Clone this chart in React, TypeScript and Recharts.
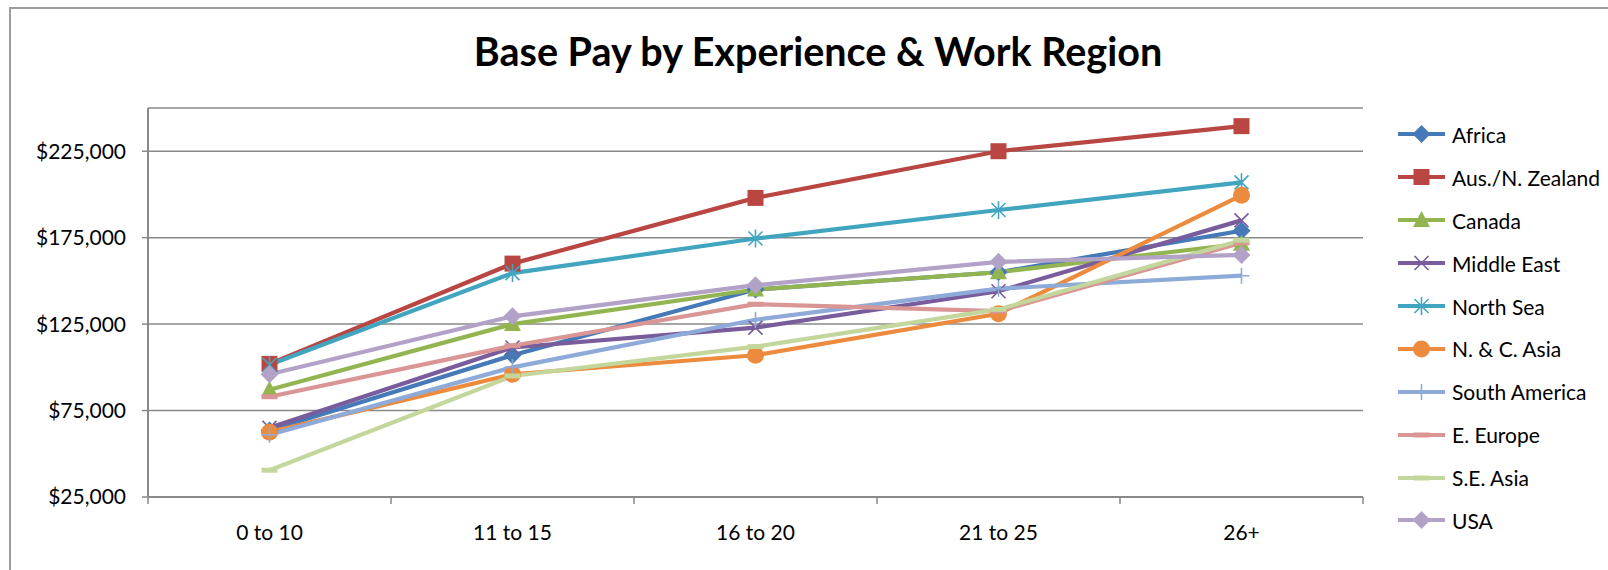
import { CartesianGrid, Legend, Line, LineChart, XAxis, YAxis } from 'recharts'

const categories = ['0 to 10', '11 to 15', '16 to 20', '21 to 25', '26+']

const africa = [63500, 107000, 145000, 155000, 179000]
const ausNz = [102000, 160000, 198000, 225000, 239500]
const canada = [87000, 125000, 145000, 155000, 171500]
const middleEast = [65000, 111500, 123000, 144000, 185000]
const northSea = [101500, 154500, 174500, 191000, 207000]
const ncAsia = [62500, 96000, 107000, 131000, 199500]
const southAmerica = [61000, 100000, 127500, 145500, 153000]
const eEurope = [83000, 112500, 136500, 132500, 172000]
const seAsia = [40500, 95000, 112000, 133500, 173500]
const usa = [96000, 129500, 147500, 161000, 165000]

const yTicks = [25000, 75000, 125000, 175000, 225000]

type MarkerKind = 'diamond' | 'square' | 'triangle' | 'x' | 'star' | 'circle' | 'plus' | 'dash'

type Series = {
  key: string
  name: string
  color: string
  marker: MarkerKind
  values: number[]
}

const series: Series[] = [
  { key: 'africa', name: 'Africa', color: '#4579B8', marker: 'diamond', values: africa },
  { key: 'ausNz', name: 'Aus./N. Zealand', color: '#B94643', marker: 'square', values: ausNz },
  { key: 'canada', name: 'Canada', color: '#93B551', marker: 'triangle', values: canada },
  { key: 'middleEast', name: 'Middle East', color: '#785C9C', marker: 'x', values: middleEast },
  { key: 'northSea', name: 'North Sea', color: '#42A5C0', marker: 'star', values: northSea },
  { key: 'ncAsia', name: 'N. & C. Asia', color: '#EC8B3D', marker: 'circle', values: ncAsia },
  { key: 'southAmerica', name: 'South America', color: '#8EAAD8', marker: 'plus', values: southAmerica },
  { key: 'eEurope', name: 'E. Europe', color: '#D99694', marker: 'dash', values: eEurope },
  { key: 'seAsia', name: 'S.E. Asia', color: '#C3D69B', marker: 'dash', values: seAsia },
  { key: 'usa', name: 'USA', color: '#B3A2C7', marker: 'diamond', values: usa },
]

// x positions sit in the middle of each category band (Excel style)
const data = categories.map((label, i) => {
  const row: Record<string, number | string> = { pos: i + 0.5, label }
  series.forEach((s) => {
    row[s.key] = s.values[i]
  })
  return row
})

const xTicks = categories.flatMap((_, i) => [i, i + 0.5]).concat(categories.length)

const FONT = 'Lato, "Open Sans", sans-serif'
const GRID = '#898989'

const Marker = ({ kind, cx, cy, color }: { kind: MarkerKind; cx: number; cy: number; color: string }) => {
  switch (kind) {
    case 'diamond':
      return <path d={`M${cx},${cy - 9}L${cx + 9},${cy}L${cx},${cy + 9}L${cx - 9},${cy}Z`} fill={color} />
    case 'square':
      return <rect x={cx - 8} y={cy - 8} width={16} height={16} fill={color} />
    case 'triangle':
      return <path d={`M${cx},${cy - 9}L${cx + 8.5},${cy + 7}L${cx - 8.5},${cy + 7}Z`} fill={color} />
    case 'x':
      return (
        <path
          d={`M${cx - 7},${cy - 7}L${cx + 7},${cy + 7}M${cx + 7},${cy - 7}L${cx - 7},${cy + 7}`}
          stroke={color}
          strokeWidth={1.6}
          fill="none"
        />
      )
    case 'star':
      return (
        <path
          d={`M${cx - 7},${cy - 7}L${cx + 7},${cy + 7}M${cx + 7},${cy - 7}L${cx - 7},${cy + 7}M${cx},${cy - 9}L${cx},${cy + 9}`}
          stroke={color}
          strokeWidth={1.6}
          fill="none"
        />
      )
    case 'circle':
      return <circle cx={cx} cy={cy} r={8.5} fill={color} />
    case 'plus':
      return (
        <path
          d={`M${cx - 8},${cy}L${cx + 8},${cy}M${cx},${cy - 8}L${cx},${cy + 8}`}
          stroke={color}
          strokeWidth={1.6}
          fill="none"
        />
      )
    case 'dash':
      return <rect x={cx - 8} y={cy - 2.5} width={16} height={5} fill={color} />
  }
}

const XTick = (props: any) => {
  const { x, y, payload } = props
  const v = payload.value as number
  if (Number.isInteger(v)) {
    return <line x1={x} x2={x} y1={y} y2={y + 7} stroke={GRID} strokeWidth={1.5} />
  }
  return (
    <text x={x} y={y + 43} textAnchor="middle" fontSize={21} fontFamily={FONT} fill="#000">
      {categories[Math.floor(v)]}
    </text>
  )
}

const LegendList = () => (
  <div style={{ fontFamily: FONT, fontSize: 21, color: '#000' }}>
    {series.map((s) => (
      <div key={s.key} style={{ display: 'flex', alignItems: 'center', height: 42.9 }}>
        <svg width={54} height={24} style={{ display: 'block' }}>
          <line x1={1} x2={48} y1={12} y2={12} stroke={s.color} strokeWidth={4} />
          <Marker kind={s.marker} cx={24.5} cy={12} color={s.color} />
        </svg>
        <span style={{ marginLeft: 1, whiteSpace: 'nowrap' }}>{s.name}</span>
      </div>
    ))}
  </div>
)

const App = () => {
  return (
    <div
      style={{
        position: 'absolute',
        left: 0,
        top: 0,
        width: 1608,
        height: 570,
        overflow: 'hidden',
        background: '#fff',
      }}
    >
      <div
        style={{
          position: 'absolute',
          left: 9,
          top: 7,
          width: 1700,
          height: 700,
          borderTop: '2px solid #9c9c9c',
          borderLeft: '2px solid #9c9c9c',
        }}
      />
      <div
        style={{
          position: 'absolute',
          left: 0,
          width: 1636,
          top: 29,
          textAlign: 'center',
          fontFamily: FONT,
          fontWeight: 700,
          fontSize: 39.5,
          lineHeight: '44px',
          color: '#000',
        }}
      >
        Base Pay by Experience &amp; Work Region
      </div>
      <LineChart
        width={1608}
        height={570}
        data={data}
        margin={{ top: 108, right: 245, bottom: 0, left: 0 }}
        style={{ position: 'absolute', left: 0, top: 0 }}
      >
        <CartesianGrid vertical={false} stroke={GRID} strokeWidth={1.5} />
        <XAxis
          dataKey="pos"
          type="number"
          domain={[0, categories.length]}
          ticks={xTicks}
          interval={0}
          height={73}
          tickLine={false}
          tickSize={0}
          tickMargin={0}
          axisLine={{ stroke: GRID, strokeWidth: 2 }}
          tick={<XTick />}
        />
        <YAxis
          type="number"
          domain={[25000, 250000]}
          ticks={yTicks}
          interval={0}
          width={148}
          allowDataOverflow
          tickSize={6}
          tickMargin={16}
          tickLine={{ stroke: GRID, strokeWidth: 1.5 }}
          axisLine={{ stroke: GRID, strokeWidth: 2 }}
          tick={{ fill: '#000', fontSize: 21, fontFamily: FONT }}
          tickFormatter={(v: number) => `$${v.toLocaleString('en-US')}`}
        />
        <Legend
          layout="vertical"
          align="center"
          verticalAlign="middle"
          wrapperStyle={{ left: 1397, top: 113, width: 211 }}
          content={() => <LegendList />}
        />
        {series.map((s) => (
          <Line
            key={s.key}
            dataKey={s.key}
            name={s.name}
            type="linear"
            stroke={s.color}
            strokeWidth={4.2}
            isAnimationActive={false}
            activeDot={false}
            dot={(p: any) => (
              <Marker key={`${s.key}-${p.index}`} kind={s.marker} cx={p.cx} cy={p.cy} color={s.color} />
            )}
          />
        ))}
      </LineChart>
    </div>
  )
}

export default App
